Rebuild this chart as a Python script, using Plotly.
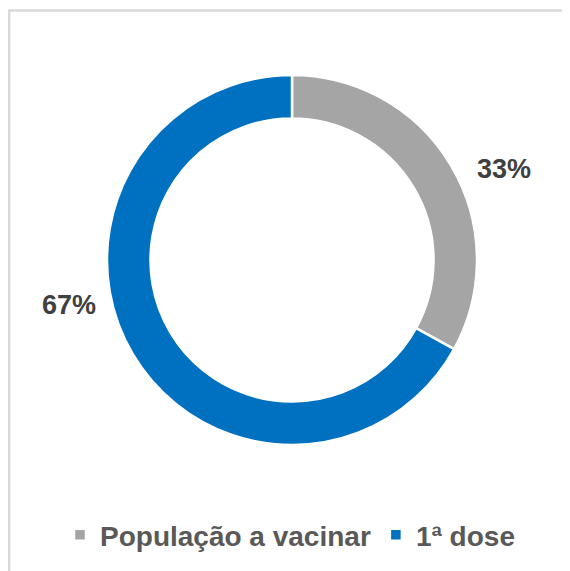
import plotly.graph_objects as go

labels = ["População a vacinar", "1ª dose"]
values = [33, 67]
colors = ["#A5A5A5", "#0070C0"]
label_pos = [(496/570, 1-161/571), (61/570, 1-297/571)]  # paper coords for data labels

total = sum(values)
fig = go.Figure(go.Pie(
    labels=labels,
    values=values,
    hole=0.765,
    sort=False,
    direction="clockwise",
    rotation=0,
    marker=dict(colors=colors, line=dict(color="white", width=2.5)),
    textinfo="none",
    hoverinfo="label+percent",
    domain=dict(x=[99/570, 469/570], y=[1-437/571, 1-67/571]),
))

annotations = []
for v, (px, py) in zip(values, label_pos):
    annotations.append(dict(
        x=px, y=py, xref="paper", yref="paper", showarrow=False,
        text=f"<b>{round(v/total*100)}%</b>",
        font=dict(family="Liberation Sans, Arial", size=27, color="#404040"),
        xanchor="center", yanchor="middle",
    ))

fig.update_layout(
    width=570, height=571,
    margin=dict(l=0, r=0, t=0, b=0),
    paper_bgcolor="white", plot_bgcolor="white",
    showlegend=True,
    legend=dict(
        orientation="h", x=282/570, xanchor="center", y=1-527/571, yanchor="middle",
        font=dict(family="Liberation Sans, Arial", size=28, color="#595959", weight="bold"),
        bgcolor="rgba(0,0,0,0)", itemwidth=30, tracegroupgap=0,
    ),
    annotations=annotations,
    shapes=[dict(type="rect", xref="paper", yref="paper",
                 x0=1.2/570, x1=1.05, y0=-0.05, y1=1-2.5/571,
                 line=dict(color="#D9D9D9", width=2.5), fillcolor="rgba(0,0,0,0)",
                 layer="below")],
)

fig.write_html("out.html")
